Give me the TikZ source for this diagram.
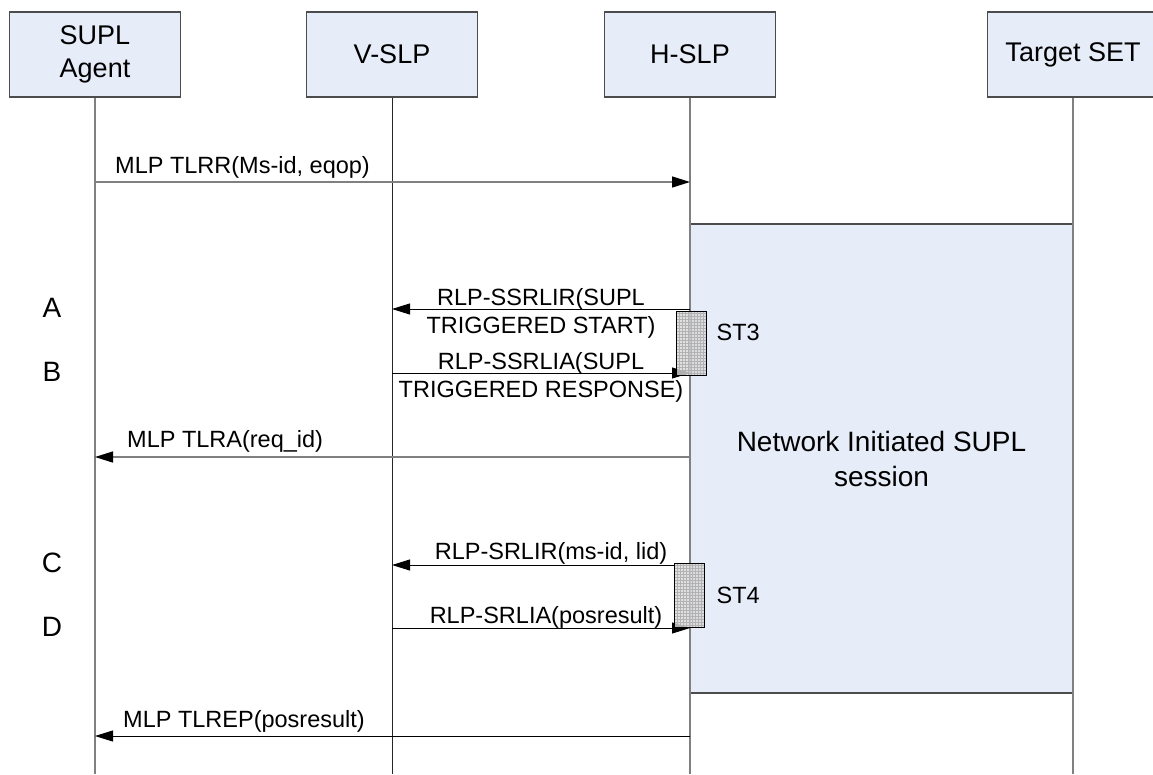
\documentclass[tikz,border=0pt]{standalone}
\usepackage{fontspec}
\setmainfont{Liberation Sans}
\usetikzlibrary{positioning,arrows.meta}
\definecolor{boxblue}{RGB}{230,236,248}
\definecolor{linegray}{RGB}{128,128,128}

\begin{document}
\begin{tikzpicture}[x=1pt, y=-1pt,
    entity/.style = {draw=black!70, line width=1.2pt, fill=boxblue, minimum width=171pt, minimum height=85pt, align=center, font=\fontsize{27}{33}\selectfont},
    session/.style = {draw=black!70, line width=1.2pt, fill=boxblue, minimum width=383pt, minimum height=469pt, align=center, font=\fontsize{28}{35}\selectfont},
    life/.style = {linegray, line width=1.5pt},
    mlp/.style = {linegray, line width=1.4pt, -{Triangle[length=18pt,width=11pt,color=black]}},
    rlp/.style = {black, line width=0.9pt, -{Triangle[length=18pt,width=11pt]}},
    lbl/.style = {inner sep=0pt, align=center, text=black, font=\fontsize{23.5}{28}\selectfont},
    big/.style = {inner sep=0pt, font=\fontsize{28}{35}\selectfont},
    stbox/.style = {draw=black, line width=1pt, fill=gray!30, fill opacity=0.8, minimum width=30pt, minimum height=64pt, inner sep=0pt,
      path picture={\draw[gray!60, line width=0.3pt, step=3pt] (path picture bounding box.south west) grid (path picture bounding box.north east);}}]
  \useasboundingbox (0,0) rectangle (1153,774);

  % participants
  \node[entity] (agent) at (95,54.5) {SUPL\\Agent};
  \node[entity, right=124.8pt of agent] (vslp) {V-SLP};
  \node[entity, right=125.8pt of vslp] (hslp) {H-SLP};
  \node[entity, right=210.8pt of hslp] (target) {Target SET};

  % message rows
  \coordinate (m1) at (0,182);
  \coordinate (m2) at (0,309);
  \coordinate (m3) at (0,373);
  \coordinate (m4) at (0,457);
  \coordinate (m5) at (0,565);
  \coordinate (m6) at (0,628);
  \coordinate (m7) at (0,736);
  \coordinate (bot) at (0,774);

  \node[session] (sess) at (881.5,458.5) {Network Initiated SUPL\\session};

  % lifelines
  \draw[life] (agent.south) -- (agent |- bot);
  \draw[life, black!85, line width=0.9pt] (vslp.south) -- (vslp |- bot);
  \draw[life] (hslp.south) -- (hslp |- bot);
  \draw[life] (target.south) -- (target |- bot);

  % messages
  \draw[mlp] (agent |- m1) -- (hslp |- m1);
  \node[lbl, anchor=base west, xshift=20pt, yshift=9pt] (tlrr) at (agent |- m1) {MLP TLRR(Ms-id, eqop)};
  \draw[rlp] (hslp |- m2) -- (vslp |- m2) node[lbl, midway, yshift=-4pt] (ssrlir) {RLP-SSRLIR(SUPL\\TRIGGERED START)};
  \draw[rlp] (vslp |- m3) -- (hslp |- m3) node[lbl, midway, yshift=-4pt] (ssrlia) {RLP-SSRLIA(SUPL\\TRIGGERED RESPONSE)};
  \draw[mlp] (hslp |- m4) -- (agent |- m4);
  \node[lbl, anchor=base west, xshift=32pt, yshift=10pt] (tlra) at (agent |- m4) {MLP TLRA(req\_id)};
  \draw[rlp] (hslp |- m5) -- (vslp |- m5) node[lbl, midway, anchor=base, xshift=10pt, yshift=6pt] (srlir) {RLP-SRLIR(ms-id, lid)};
  \draw[rlp] (vslp |- m6) -- (hslp |- m6) node[lbl, midway, anchor=base, xshift=5pt, yshift=5pt] (srlia) {RLP-SRLIA(posresult)};
  \draw[rlp] (hslp |- m7) -- (agent |- m7);
  \node[lbl, anchor=base west, xshift=28pt, yshift=9pt] (tlrep) at (agent |- m7) {MLP TLREP(posresult)};

  % sub-transactions
  \node[stbox] (st3) at (691,343) {};
  \node[lbl, right=10pt of st3, yshift=11pt] (st3l) {ST3};
  \node[stbox] (st4) at (689,595) {};
  \node[lbl, right=12pt of st4] (st4l) {ST4};

  % step letters
  \node[big] (la) at (52,308) {A};
  \node[big] (lb) at (52,372) {B};
  \node[big] (lc) at (52,563) {C};
  \node[big] (ld) at (52,627) {D};
\end{tikzpicture}
\end{document}
